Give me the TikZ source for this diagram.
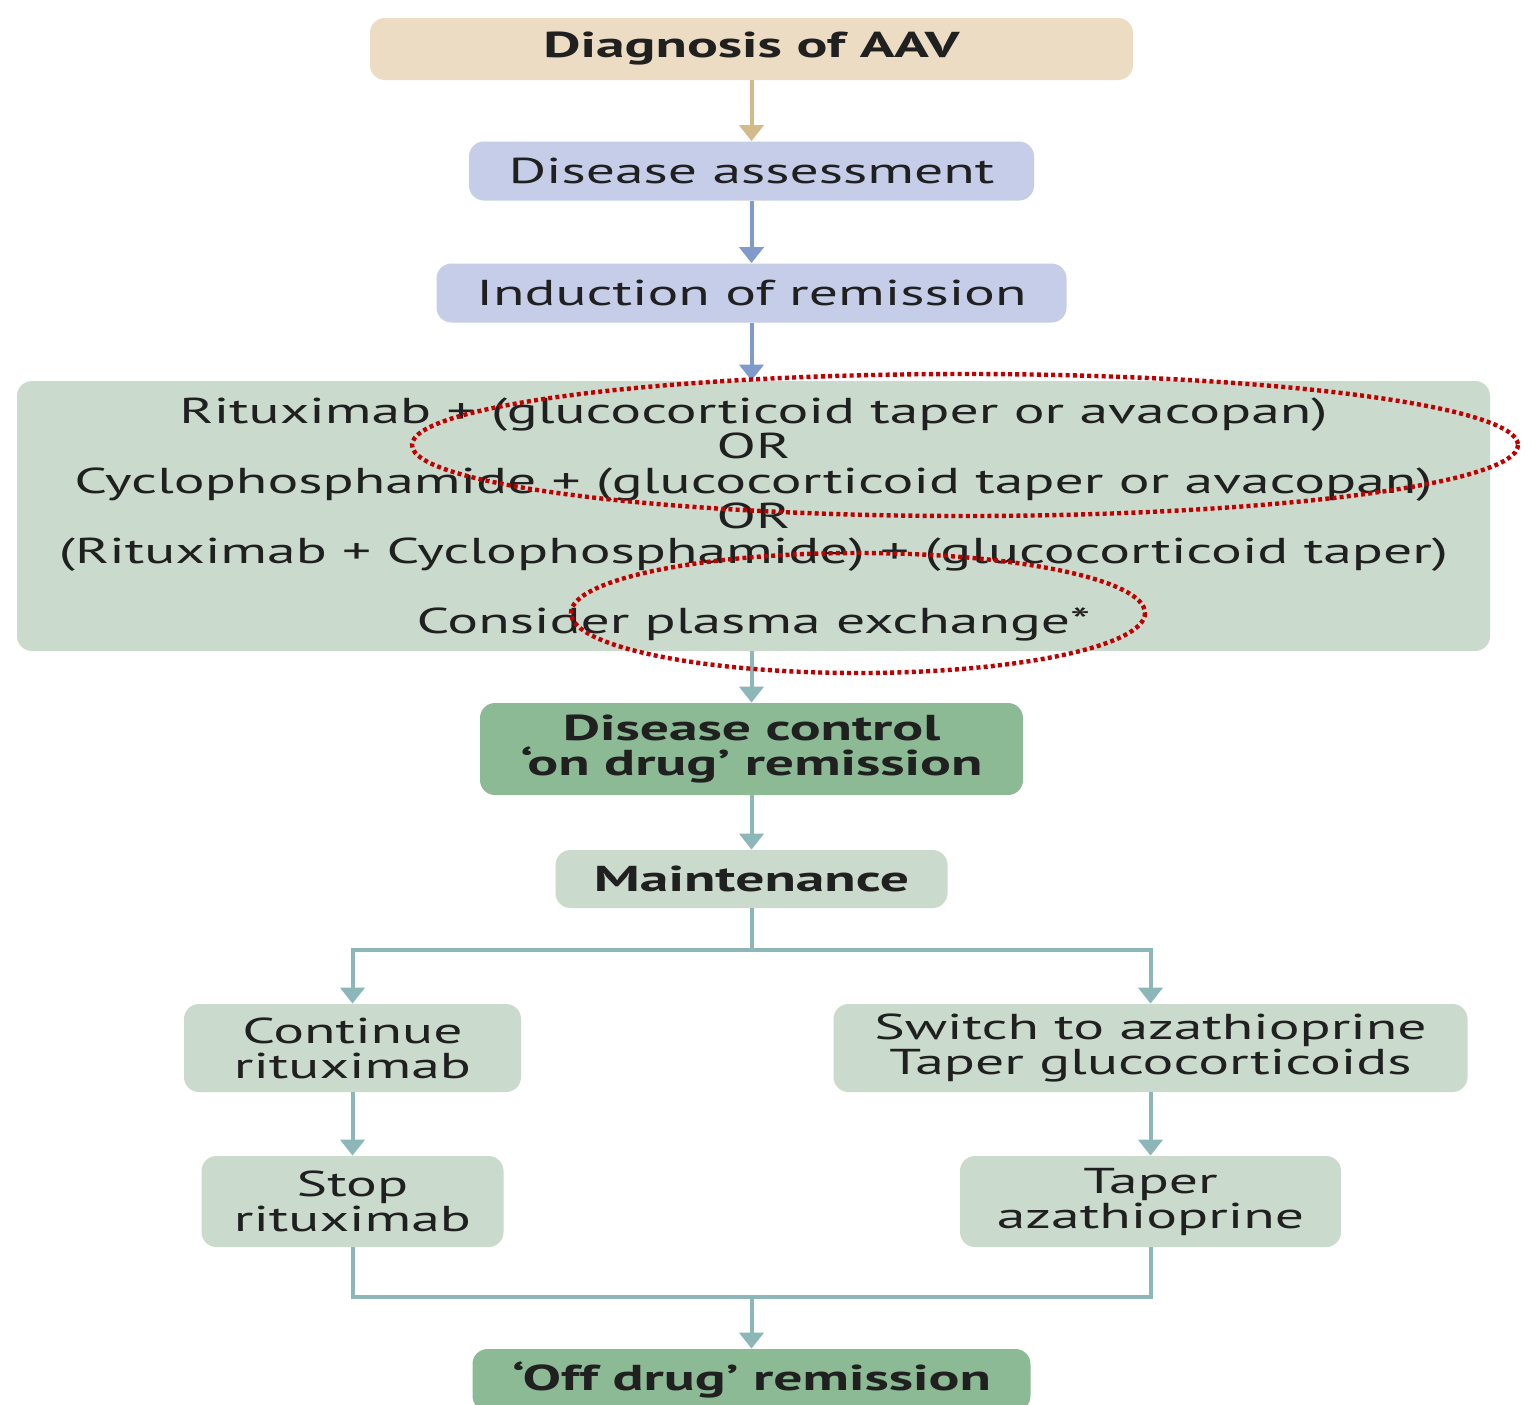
\documentclass[tikz,border=0pt]{standalone}
\usepackage{fontspec}
\setmainfont{PT Sans}[FakeStretch=1.6]
\usetikzlibrary{arrows.meta,calc}
\definecolor{tanfill}{HTML}{EBDCC3}
\definecolor{tanline}{HTML}{D2BA8A}
\definecolor{lavfill}{HTML}{C5CDE8}
\definecolor{lavline}{HTML}{7F9BCB}
\definecolor{grfill}{HTML}{CADACD}
\definecolor{dkgreen}{HTML}{8CBA95}
\definecolor{tealline}{HTML}{8DB6B8}
\definecolor{txt}{HTML}{202020}
\definecolor{redov}{HTML}{C00000}
\begin{document}
\begin{tikzpicture}[x=0.5pt,y=-0.5pt,
  box/.style={rounded corners=7.5pt, inner sep=0pt, align=center, text=txt,
    font=\fontsize{18}{17.5}\selectfont},
  bbox/.style={box, font=\fontsize{18}{17.5}\selectfont\bfseries},
  conn/.style={line width=2pt, -{Triangle[width=12pt,length=8pt]}},
  plain/.style={line width=2pt},
  oval/.style={draw=redov, line width=2.2pt, dash pattern=on 2pt off 1.6pt}]
\useasboundingbox (0,0) rectangle (1534,1404);
\fill[white] (0,0) rectangle (1534,1404);
\node[bbox, fill=tanfill, minimum width=381.5pt, minimum height=31pt] (diag) at (751.5,49) {Diagnosis of AAV};
\node[box, fill=lavfill, minimum width=282.5pt, minimum height=29.5pt] (assess) at (751.5,171) {Disease assessment};
\node[box, fill=lavfill, minimum width=315pt, minimum height=29.5pt] (induct) at (751.5,293) {Induction of remission};
\node[box, fill=grfill, minimum width=736.5pt, minimum height=135pt] (induce) at (753.5,516) {};
\node[box] (inducetext) at (753.5,519.5) {Rituximab + (glucocorticoid taper or avacopan)\\OR\\Cyclophosphamide + (glucocorticoid taper or avacopan)\\OR\\(Rituximab + Cyclophosphamide) + (glucocorticoid taper)\\[17.5pt]Consider plasma exchange*};
\node[bbox, fill=dkgreen, minimum width=271.5pt, minimum height=46pt] (control) at (751.5,749) {Disease control\\‘on drug’ remission};
\node[bbox, fill=grfill, minimum width=196pt, minimum height=29pt] (maint) at (751.5,879) {Maintenance};
\node[box, fill=grfill, minimum width=168.5pt, minimum height=44pt] (cont) at (352.5,1048) {Continue\\rituximab};
\node[box, fill=grfill, minimum width=317pt, minimum height=44pt] (switch) at (1150.5,1048) {Switch to azathioprine\\Taper glucocorticoids};
\node[box, fill=grfill, minimum width=151pt, minimum height=45.5pt] (stop) at (352.5,1201.5) {Stop\\rituximab};
\node[box, fill=grfill, minimum width=190.5pt, minimum height=45.5pt] (taper) at (1150.5,1201.5) {Taper\\azathioprine};
\node[bbox, fill=dkgreen, minimum width=279pt, minimum height=31pt] (off) at (751.5,1380) {‘Off drug’ remission};
\coordinate (split) at (751.5,950);
\coordinate (merge) at (751.5,1297);
\draw[conn, draw=tanline, tanline] (diag) -- (assess);
\draw[conn, draw=lavline, lavline] (assess) -- (induct);
\draw[conn, draw=lavline, lavline] (induct) -- (induct |- induce.north);
\draw[conn, draw=tealline, tealline] (induce.south -| control.north) -- (control);
\draw[conn, draw=tealline, tealline] (control) -- (maint);
\draw[plain, draw=tealline] (maint) -- (split);
\draw[conn, draw=tealline, tealline] (split) -| (cont.north);
\draw[conn, draw=tealline, tealline] (split) -| (switch.north);
\draw[conn, draw=tealline, tealline] (cont) -- (stop);
\draw[conn, draw=tealline, tealline] (switch) -- (taper);
\draw[plain, draw=tealline] (stop.south) |- (merge);
\draw[plain, draw=tealline] (taper.south) |- (merge);
\draw[conn, draw=tealline, tealline] (merge) -- (off);
\draw[oval] (965,445) ellipse [x radius=553, y radius=71];
\draw[oval] (858,613) ellipse [x radius=287, y radius=60];
\end{tikzpicture}
\end{document}
